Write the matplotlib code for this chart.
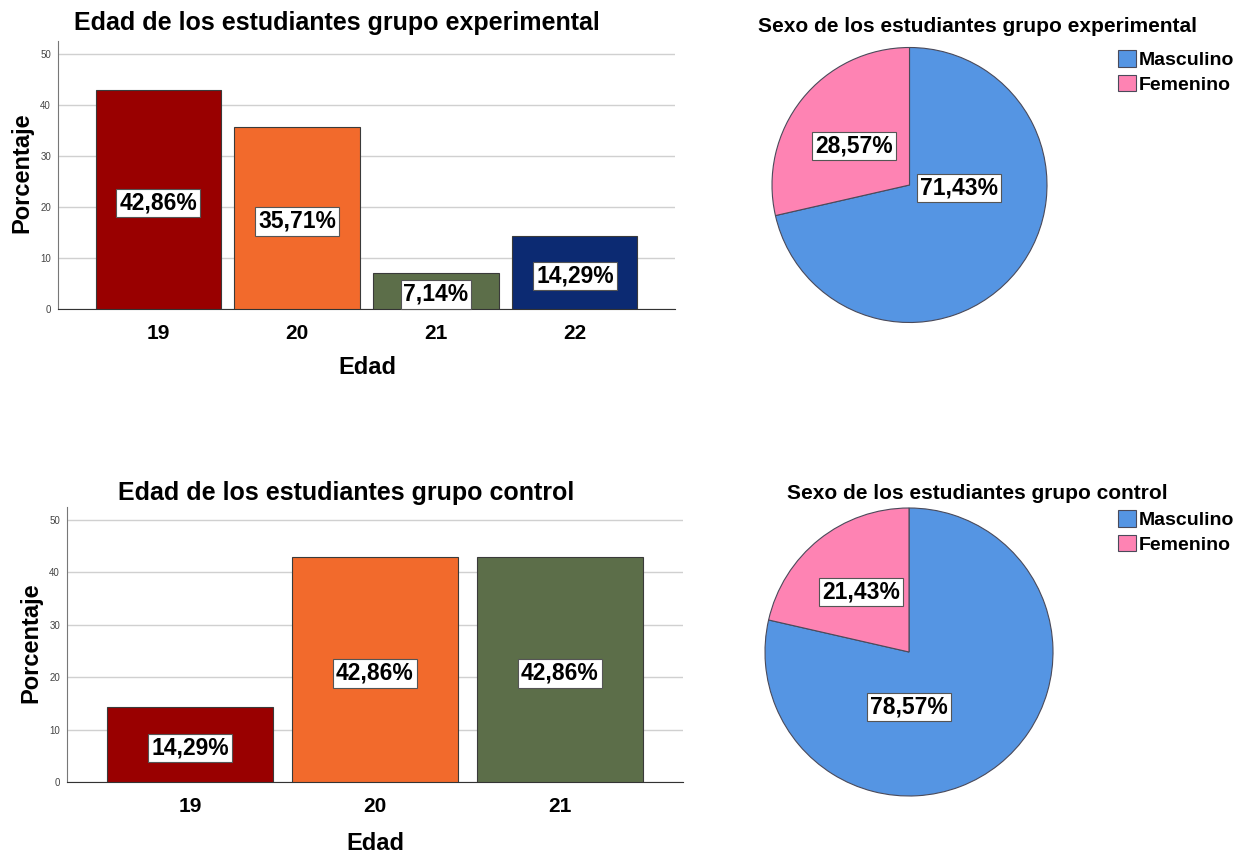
import matplotlib
matplotlib.use("Agg")
import matplotlib.pyplot as plt
from matplotlib.patches import Patch

# data
edad_exp = ["19", "20", "21", "22"]
pct_exp = [42.86, 35.71, 7.14, 14.29]
edad_ctl = ["19", "20", "21"]
pct_ctl = [14.29, 42.86, 42.86]
sexo = ["Masculino", "Femenino"]
sexo_exp = [71.43, 28.57]
sexo_ctl = [78.57, 21.43]

bar_colors = ["#990000", "#F26A2C", "#5C6E49", "#0C2A72"]
pie_colors = ["#5595E3", "#FE83B3"]

W, H = 1251, 855
plt.rcParams["font.family"] = ["Liberation Sans", "DejaVu Sans"]

fig = plt.figure(figsize=(W / 100, H / 100), dpi=100)


def box(x0, y0, x1, y1):
    # pixel box (top-left origin) -> figure fraction rect
    return [x0 / W, 1 - y1 / H, (x1 - x0) / W, (y1 - y0) / H]


def ftext(x, y, s, **kw):
    fig.text(x / W, 1 - y / H, s, ha="center", va="center", **kw)


def label_box():
    return dict(boxstyle="square,pad=0.12", fc="white", ec="#555555", lw=0.8)


def bar_panel(rect, xlim, cats, vals, title, title_xy, ylab_xy, xlab_xy):
    ax = fig.add_axes(box(*rect))
    x = list(range(len(cats)))
    ax.bar(x, vals, width=0.9, color=bar_colors[:len(cats)],
           edgecolor="#3a3a3a", linewidth=0.8, zorder=3)
    for i, v in enumerate(vals):
        ax.text(i, v / 2 - 0.7, f"{v:.2f}%".replace(".", ","),
                ha="center", va="center", fontsize=16.5, fontweight="bold",
                zorder=4, bbox=label_box())
    ax.set_xlim(*xlim)
    ax.set_ylim(0, 52.5)
    ax.set_yticks([0, 10, 20, 30, 40, 50])
    ax.set_xticks(x)
    ax.set_xticklabels(cats, fontsize=15, fontweight="bold")
    ax.tick_params(axis="x", length=0, pad=11)
    ax.tick_params(axis="y", length=0, labelsize=7, labelcolor="#444444", pad=5)
    ax.grid(axis="y", color="#d0d0d0", lw=1, zorder=0)
    for s in ("top", "right"):
        ax.spines[s].set_visible(False)
    ax.spines["left"].set_color("#777777")
    ax.spines["bottom"].set_color("#333333")
    ftext(*title_xy, title, fontsize=18, fontweight="bold")
    ftext(*ylab_xy, "Porcentaje", fontsize=17, fontweight="bold", rotation=90)
    ftext(*xlab_xy, "Edad", fontsize=17, fontweight="bold")
    return ax


def pie_panel(rect, vals, title, title_xy, lab_pos, leg_top):
    ax = fig.add_axes(box(*rect))
    ax.pie(vals, colors=pie_colors, startangle=90, counterclock=False,
           radius=1, wedgeprops=dict(edgecolor="#4a4a5a", linewidth=0.8))
    ax.set_xlim(-1, 1)
    ax.set_ylim(-1, 1)
    ax.set_aspect("equal")
    for v, (px, py) in zip(vals, lab_pos):
        ftext(px, py, f"{v:.2f}%".replace(".", ","), fontsize=16.5,
              fontweight="bold", bbox=label_box())
    ftext(*title_xy, title, fontsize=15, fontweight="bold")
    handles = [Patch(facecolor=c, edgecolor="#4a4a5a", lw=0.8) for c in pie_colors]
    fig.legend(handles, sexo, loc="upper left",
               bbox_to_anchor=(1118 / W, 1 - leg_top / H),
               frameon=False, handlelength=0.95, handleheight=0.95,
               handletextpad=0.1, labelspacing=0.28, borderaxespad=0,
               borderpad=0, prop=dict(weight="bold", size=14))
    return ax


bar_panel((58, 41, 675, 309), (-0.72, 3.72), edad_exp, pct_exp,
          "Edad de los estudiantes grupo experimental",
          (337, 23), (22, 173), (367, 368))
bar_panel((67, 507, 683, 782), (-0.665, 2.665), edad_ctl, pct_ctl,
          "Edad de los estudiantes grupo control",
          (346, 493), (31, 643), (375, 843))

pie_panel((772, 47, 1047, 323), sexo_exp,
          "Sexo de los estudiantes grupo experimental",
          (977, 27), [(959, 188), (854, 146)], 50)
pie_panel((765, 507, 1053, 797), sexo_ctl,
          "Sexo de los estudiantes grupo control",
          (977, 493), [(909, 707), (861, 592)], 510)

fig.savefig("out.png", dpi=100)
